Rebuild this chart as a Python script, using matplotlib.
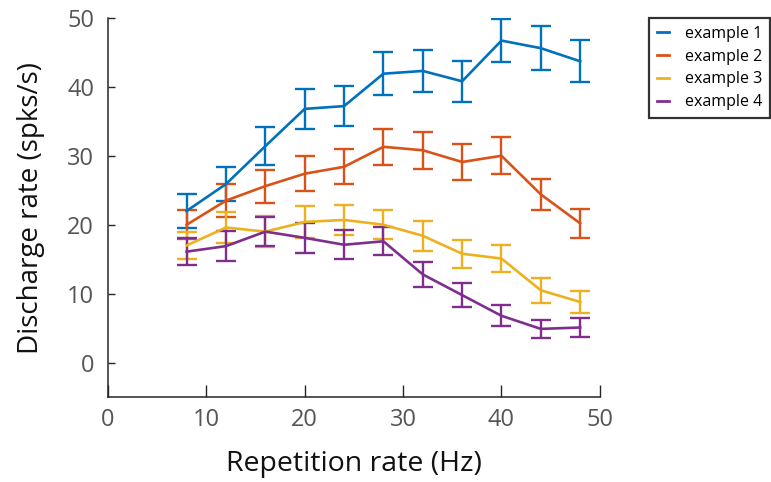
import matplotlib
matplotlib.use("Agg")
import matplotlib.pyplot as plt
from matplotlib.lines import Line2D

plt.rcParams['font.family'] = ['Open Sans', 'DejaVu Sans']

rates = [8, 12, 16, 20, 24, 28, 32, 36, 40, 44, 48]

ex1 = [22.0, 25.9, 31.4, 36.8, 37.2, 41.9, 42.3, 40.8, 46.7, 45.6, 43.7]
ex1_err = [2.4, 2.5, 2.7, 2.85, 2.85, 3.1, 3.05, 3.0, 3.15, 3.15, 3.05]
ex2 = [20.0, 23.5, 25.6, 27.4, 28.4, 31.3, 30.8, 29.1, 30.0, 24.4, 20.2]
ex2_err = [2.1, 2.4, 2.4, 2.5, 2.55, 2.65, 2.65, 2.65, 2.65, 2.3, 2.15]
ex3 = [17.0, 19.6, 19.0, 20.4, 20.7, 20.0, 18.4, 15.8, 15.1, 10.5, 8.8]
ex3_err = [2.0, 2.25, 2.2, 2.25, 2.2, 2.1, 2.15, 2.05, 2.0, 1.8, 1.65]
ex4 = [16.1, 16.9, 19.0, 18.1, 17.1, 17.6, 12.8, 9.8, 6.8, 4.9, 5.1]
ex4_err = [2.0, 2.15, 2.1, 2.15, 2.1, 2.05, 1.8, 1.7, 1.5, 1.35, 1.35]

labels = ['example 1', 'example 2', 'example 3', 'example 4']
colors = ['#0072BD', '#D95319', '#EDB120', '#7E2F8E']

xticks = [0, 10, 20, 30, 40, 50]
yticks = [0, 10, 20, 30, 40, 50]

fig = plt.figure(figsize=(7.71, 4.82), dpi=100)
ax = fig.add_axes([0.140, 0.176, 0.638, 0.787])

series = [(ex1, ex1_err), (ex2, ex2_err), (ex3, ex3_err), (ex4, ex4_err)]
for (vals, errs), c, lab in zip(series, colors, labels):
    ax.errorbar(rates, vals, yerr=errs, color=c, lw=1.9, elinewidth=1.7,
                capsize=7.2, capthick=1.7, label=lab)

ax.set_xlim(0, 50)
ax.set_ylim(-5, 50)
ax.set_xticks(xticks)
ax.set_yticks(yticks)
for s in ['top', 'right']:
    ax.spines[s].set_visible(False)
for s in ['left', 'bottom']:
    ax.spines[s].set_linewidth(1.1)
    ax.spines[s].set_color('#262626')
ax.tick_params(axis='both', direction='in', colors='#262626', labelcolor='#555555',
               labelsize=17, width=1.0)
ax.tick_params(axis='x', length=9, pad=8)
ax.tick_params(axis='y', length=5, pad=10)

ax.set_xlabel('Repetition rate (Hz)', fontsize=20.5, color='#111111', labelpad=13)
ax.set_ylabel('Discharge rate (spks/s)', fontsize=20, color='#111111', labelpad=16)

leg_handles = [Line2D([0], [0], color=c, lw=2) for c in colors]
leg = fig.legend(leg_handles, labels, loc='upper left',
                 bbox_to_anchor=(649 / 771, 1 - 18 / 482), fontsize=11.5,
                 frameon=True, fancybox=False, handlelength=0.75,
                 handletextpad=1.0, borderpad=0.5, labelspacing=0.42,
                 borderaxespad=0)
leg.get_frame().set_edgecolor('black')
leg.get_frame().set_linewidth(1.6)

fig.savefig('out.png', dpi=100)
